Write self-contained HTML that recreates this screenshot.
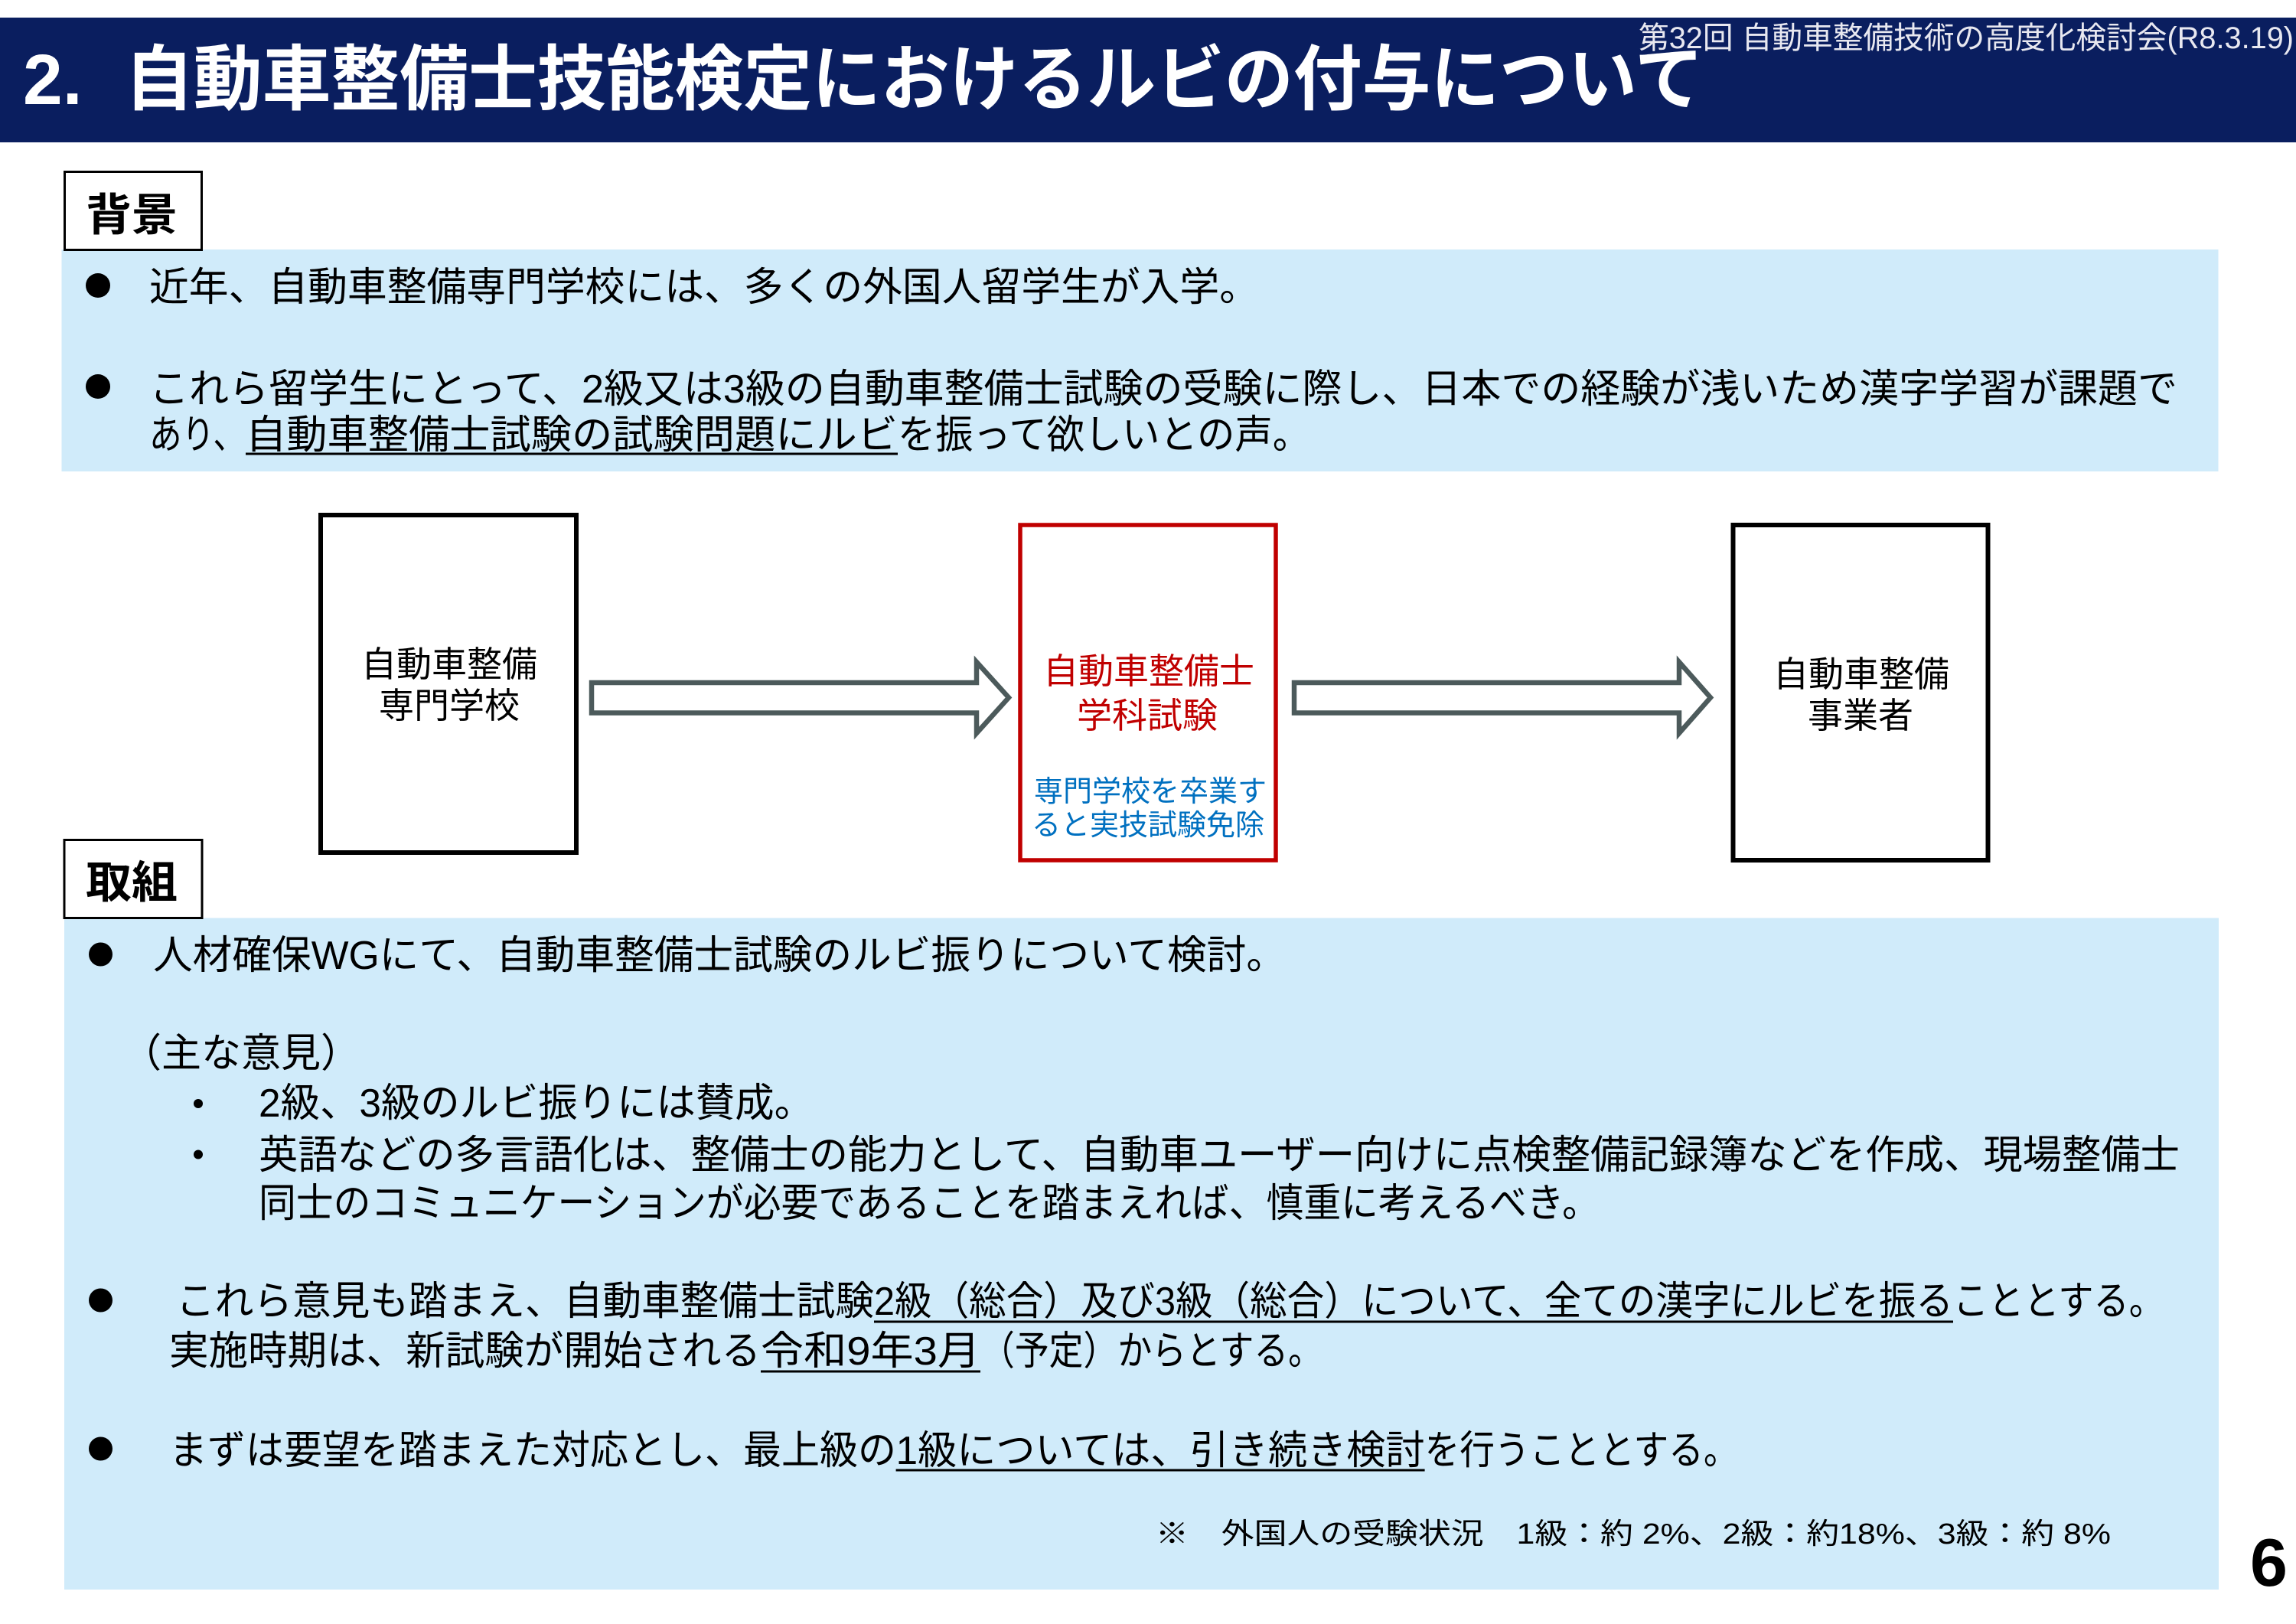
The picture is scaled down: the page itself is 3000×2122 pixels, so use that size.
<!DOCTYPE html>
<html lang="ja">
<head>
<meta charset="utf-8">
<style>
html,body{margin:0;padding:0;background:#fff;}
svg{display:block;}
text{font-family:"Liberation Sans","Noto Sans CJK JP",sans-serif;}
</style>
</head>
<body>
<svg xmlns="http://www.w3.org/2000/svg" width="3000" height="2122" viewBox="0 0 3000 2122">
  <rect x="0" y="0" width="3000" height="2122" fill="#ffffff"/>

  <!-- Header band -->
  <rect x="0" y="23" width="3000" height="163" fill="#0a1e5f"/>
  <text x="30" y="136" font-size="93" font-weight="bold" fill="#ffffff">2.</text>
  <text x="163" y="136" font-size="93" font-weight="bold" fill="#ffffff" textLength="2063" lengthAdjust="spacingAndGlyphs">自動車整備士技能検定におけるルビの付与について</text>
  <text x="2141" y="63" font-size="40" fill="#e8e8f0" textLength="856" lengthAdjust="spacingAndGlyphs">第32回 自動車整備技術の高度化検討会(R8.3.19)</text>

  <!-- Background section blue box -->
  <rect x="80.5" y="326" width="2818" height="290" fill="#d0ebfa"/>
  <!-- 背景 label -->
  <rect x="84.5" y="224.5" width="179" height="102" fill="#ffffff" stroke="#000000" stroke-width="3"/>
  <text x="112" y="301" font-size="58" font-weight="bold" fill="#000" textLength="120" lengthAdjust="spacingAndGlyphs">背景</text>

  <!-- Background bullets -->
  <circle cx="128" cy="373" r="16" fill="#000"/>
  <text x="195" y="393" font-size="52" fill="#000" textLength="1450" lengthAdjust="spacingAndGlyphs">近年、自動車整備専門学校には、多くの外国人留学生が入学。</text>

  <circle cx="128" cy="505" r="16" fill="#000"/>
  <text x="195" y="526" font-size="52" fill="#000" textLength="2650" lengthAdjust="spacingAndGlyphs">これら留学生にとって、2級又は3級の自動車整備士試験の受験に際し、日本での経験が浅いため漢字学習が課題で</text>
  <text x="195" y="586" font-size="52" fill="#000" textLength="126" lengthAdjust="spacingAndGlyphs">あり、</text>
  <text x="321" y="586" font-size="52" fill="#000" textLength="852" lengthAdjust="spacingAndGlyphs">自動車整備士試験の試験問題にルビ</text>
  <text x="1173" y="586" font-size="52" fill="#000" textLength="539" lengthAdjust="spacingAndGlyphs">を振って欲しいとの声。</text>
  <rect x="321" y="591.5" width="852" height="3" fill="#000"/>

  <!-- Flow diagram -->
  <rect x="419" y="673" width="334" height="441" fill="#ffffff" stroke="#000000" stroke-width="6"/>
  <text x="587" y="884" font-size="46" fill="#000" text-anchor="middle">自動車整備</text>
  <text x="587" y="938" font-size="46" fill="#000" text-anchor="middle">専門学校</text>

  <path d="M773,892 L1276,892 L1276,865 L1318,911.5 L1276,958 L1276,931.5 L773,931.5 Z" fill="#ffffff" stroke="#4c5a5b" stroke-width="6.5" stroke-linejoin="miter"/>

  <rect x="1333" y="686" width="334" height="438" fill="#ffffff" stroke="#c00000" stroke-width="5.5"/>
  <text x="1501" y="893" font-size="46" fill="#c00000" text-anchor="middle">自動車整備士</text>
  <text x="1499" y="951" font-size="46" fill="#c00000" text-anchor="middle">学科試験</text>
  <text x="1503" y="1047" font-size="38" fill="#0070c0" text-anchor="middle">専門学校を卒業す</text>
  <text x="1500" y="1091" font-size="38" fill="#0070c0" text-anchor="middle">ると実技試験免除</text>

  <path d="M1691,892 L2194,892 L2194,865 L2235,911.5 L2194,958 L2194,931.5 L1691,931.5 Z" fill="#ffffff" stroke="#4c5a5b" stroke-width="6.5" stroke-linejoin="miter"/>

  <rect x="2264.5" y="686" width="333" height="438" fill="#ffffff" stroke="#000000" stroke-width="6"/>
  <text x="2432" y="897" font-size="46" fill="#000" text-anchor="middle">自動車整備</text>
  <text x="2431" y="951" font-size="46" fill="#000" text-anchor="middle">事業者</text>

  <!-- Efforts section blue box -->
  <rect x="84" y="1199.5" width="2815" height="877.5" fill="#d0ebfa"/>
  <!-- 取組 label -->
  <rect x="84" y="1097.5" width="180" height="102" fill="#ffffff" stroke="#000000" stroke-width="3"/>
  <text x="112" y="1173" font-size="58" font-weight="bold" fill="#000" textLength="120" lengthAdjust="spacingAndGlyphs">取組</text>

  <circle cx="131.5" cy="1247" r="15.5" fill="#000"/>
  <text x="200" y="1266" font-size="52" fill="#000" textLength="1480" lengthAdjust="spacingAndGlyphs">人材確保WGにて、自動車整備士試験のルビ振りについて検討。</text>

  <text x="159" y="1394" font-size="52" fill="#000" textLength="312" lengthAdjust="spacingAndGlyphs">（主な意見）</text>

  <circle cx="259" cy="1442" r="6" fill="#000"/>
  <text x="338" y="1459" font-size="52" fill="#000" textLength="725" lengthAdjust="spacingAndGlyphs">2級、3級のルビ振りには賛成。</text>

  <circle cx="259" cy="1508.5" r="6" fill="#000"/>
  <text x="338" y="1527" font-size="52" fill="#000" textLength="2510" lengthAdjust="spacingAndGlyphs">英語などの多言語化は、整備士の能力として、自動車ユーザー向けに点検整備記録簿などを作成、現場整備士</text>
  <text x="338" y="1590" font-size="52" fill="#000" textLength="1752" lengthAdjust="spacingAndGlyphs">同士のコミュニケーションが必要であることを踏まえれば、慎重に考えるべき。</text>

  <circle cx="131.5" cy="1699" r="15.5" fill="#000"/>
  <text x="230" y="1718" font-size="52" fill="#000" textLength="912" lengthAdjust="spacingAndGlyphs">これら意見も踏まえ、自動車整備士試験</text>
  <text x="1142" y="1718" font-size="52" fill="#000" textLength="1410" lengthAdjust="spacingAndGlyphs">2級（総合）及び3級（総合）について、全ての漢字にルビを振る</text>
  <text x="2552" y="1718" font-size="52" fill="#000" textLength="276" lengthAdjust="spacingAndGlyphs">こととする。</text>
  <rect x="1142" y="1725.5" width="1410" height="3" fill="#000"/>

  <text x="221" y="1783" font-size="52" fill="#000" textLength="773" lengthAdjust="spacingAndGlyphs">実施時期は、新試験が開始される</text>
  <text x="994" y="1783" font-size="52" fill="#000" textLength="287" lengthAdjust="spacingAndGlyphs">令和9年3月</text>
  <text x="1281" y="1783" font-size="52" fill="#000" textLength="447" lengthAdjust="spacingAndGlyphs">（予定）からとする。</text>
  <rect x="994" y="1790.5" width="287" height="3" fill="#000"/>

  <circle cx="131.5" cy="1893" r="15.5" fill="#000"/>
  <text x="221" y="1913" font-size="52" fill="#000" textLength="950" lengthAdjust="spacingAndGlyphs">まずは要望を踏まえた対応とし、最上級の</text>
  <text x="1170.6" y="1913" font-size="52" fill="#000" textLength="691" lengthAdjust="spacingAndGlyphs">1級については、引き続き検討</text>
  <text x="1861.6" y="1913" font-size="52" fill="#000" textLength="410" lengthAdjust="spacingAndGlyphs">を行うこととする。</text>
  <rect x="1170.6" y="1919.5" width="691" height="3" fill="#000"/>

  <text x="1510" y="2017" font-size="38" fill="#000" textLength="1248" lengthAdjust="spacingAndGlyphs">※　外国人の受験状況　1級：約 2%、2級：約18%、3級：約 8%</text>

  <!-- Page number -->
  <text x="2940" y="2072" font-size="88" font-weight="bold" fill="#000">6</text>
</svg>
</body>
</html>
